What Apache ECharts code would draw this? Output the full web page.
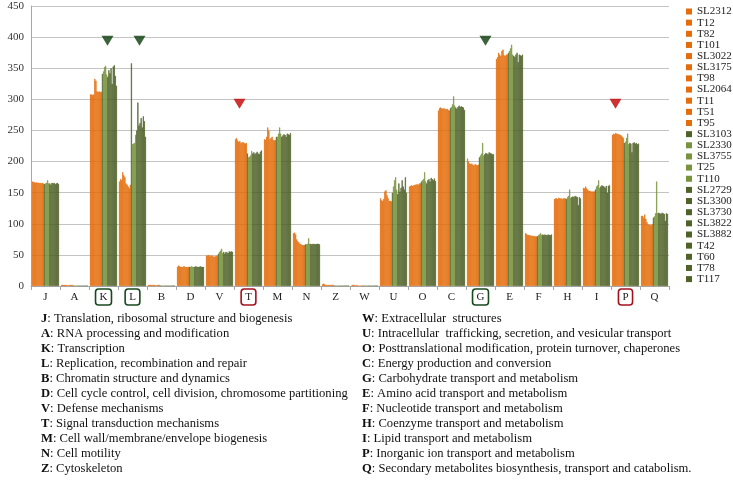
<!DOCTYPE html>
<html>
<head>
<meta charset="utf-8">
<script src="https://cdn.jsdelivr.net/npm/echarts@6/dist/echarts.min.js"></script>
<style>
html,body{margin:0;padding:0;background:#fff;}
#c{width:733px;height:480px;}
</style>
</head>
<body>
<div id="c"></div>
<script>
// ---------------- DATA ----------------
const categories = ['J','A','K','L','B','D','V','T','M','N','Z','W','U','O','C','G','E','F','H','I','P','Q'];
const strains = ['SL2312','T12','T82','T101','SL3022','SL3175','T98','SL2064','T11','T51','T95',
  'SL3103','SL2330','SL3755','T25','T110','SL2729','SL3300','SL3730','SL3822','SL3882','T42','T60','T78','T117'];
// strain group: o = orange, d = dark green, l = light green
const strainGroup = ['o','o','o','o','o','o','o','o','o','o','o','d','l','l','l','l','d','d','d','d','d','d','d','d','d'];

// values per COG category, in the strain order above
const J = [168,167,167,166,167,166,166,166,165,166,165, 164, 165,166,170,165, 165,163,166,165,166,164,165,166,164];
const A = [2,2,2,2,2,2,1,2,2,2,2, 1, 1,1,1,1, 1,1,1,1,1,1,1,1,1];
const K = [308,308,307,308,333,330,313,312,313,312,312, 341, 345,352,354,340, 336,347,342,350,325,353,355,338,322];
const L = [168,172,170,183,178,175,165,163,160,157,163, 358, 228,229,230,243, 250,295,258,262,270,255,273,265,240];
const B = [2,2,2,2,2,2,2,1,2,2,2, 1, 1,1,1,1, 1,1,1,1,1,1,1,1,1];
const D = [31,33,32,31,31,31,32,31,31,30,31, 31, 31,32,31,31, 31,32,31,31,31,32,31,31,31];
const V = [49,49,50,48,49,49,48,47,48,49,48, 52, 55,57,60,53, 55,52,55,54,53,56,55,56,55];
const T = [236,238,234,232,233,230,231,231,230,229,230, 213, 207,208,210,217, 213,215,212,214,216,213,212,216,218];
const M = [236,235,240,255,250,236,238,240,235,234,235, 240, 240,245,255,245, 240,242,244,243,240,245,244,243,246];
const N = [85,86,83,75,72,70,68,67,66,66,66, 67, 67,68,77,68, 68,67,68,68,67,68,68,68,67];
const Z = [3,4,3,2,2,2,2,2,2,2,2, 1, 1,1,1,1, 1,1,1,1,1,1,1,1,1];
const W = [1,2,2,2,1,2,1,1,1,1,1, 1, 1,1,1,1, 1,1,1,1,1,1,1,1,1];
const U = [141,138,137,140,152,154,146,141,137,137,136, 150, 160,170,175,155, 148,165,152,158,170,160,155,175,150];
const O = [160,161,162,161,162,163,163,164,163,165,165, 168, 170,172,183,168, 165,170,172,168,174,172,170,173,169];
const C = [282,286,287,286,285,286,285,284,285,283,282, 286, 288,292,305,290, 287,285,288,290,288,289,288,287,283];
const G = [205,200,197,196,197,195,194,196,195,194,195, 207, 210,213,230,210, 212,214,213,212,215,214,213,212,212];
const E = [365,368,375,372,370,378,380,371,370,372,372, 375, 378,382,388,372, 370,368,372,375,360,372,371,370,372];
const F = [85,84,82,82,82,81,81,81,80,80,80, 80, 82,83,85,82, 83,82,83,82,82,83,82,82,83];
const H = [140,141,141,140,142,141,141,140,141,141,141, 140, 143,145,155,142, 143,144,143,145,144,143,130,143,141];
const I = [158,157,160,157,155,153,153,152,152,152,152, 155, 160,162,170,158, 160,162,161,160,158,161,150,161,162];
const P = [243,245,244,246,245,244,244,243,242,240,238, 230, 232,238,245,228, 230,229,215,230,231,229,230,228,229];
const Q = [113,113,110,115,108,103,99,99,98,98,100, 110, 112,117,168,117, 118,117,116,118,117,116,105,117,116];
const categoryValues = [J,A,K,L,B,D,V,T,M,N,Z,W,U,O,C,G,E,F,H,I,P,Q];

// highlighted categories (boxes + down-pointing triangles)
const greenMarked = ['K','L','G'];
const redMarked = ['T','P'];
const markerCats = ['K','L','G','T','P'];
const markerVals = [394,394,394,293,293];

// y ticks
const yMin = 0, yMax = 450, yStep = 50;

// legend text for the COG codes
const defsLeft = [
  ['J','Translation, ribosomal structure and biogenesis'],
  ['A','RNA processing and modification'],
  ['K','Transcription'],
  ['L','Replication, recombination and repair'],
  ['B','Chromatin structure and dynamics'],
  ['D','Cell cycle control, cell division, chromosome partitioning'],
  ['V','Defense mechanisms'],
  ['T','Signal transduction mechanisms'],
  ['M','Cell wall/membrane/envelope biogenesis'],
  ['N','Cell motility'],
  ['Z','Cytoskeleton']
];
const defsRight = [
  ['W','Extracellular  structures'],
  ['U','Intracellular  trafficking, secretion, and vesicular transport'],
  ['O','Posttranslational modification, protein turnover, chaperones'],
  ['C','Energy production and conversion'],
  ['G','Carbohydrate transport and metabolism'],
  ['E','Amino acid transport and metabolism'],
  ['F','Nucleotide transport and metabolism'],
  ['H','Coenzyme transport and metabolism'],
  ['I','Lipid transport and metabolism'],
  ['P','Inorganic ion transport and metabolism'],
  ['Q','Secondary metabolites biosynthesis, transport and catabolism.']
];

// ---------------- STYLE ----------------
const groupColor = {o:'#E46C0A', d:'#4F6228', l:'#77933C'};
const serif = '"Liberation Serif", "DejaVu Serif", serif';
const markerOffsets = {K:[4,0], L:[7,0], G:[5,0], T:[-9,0], P:[-10,0]};

const series = strains.map((name, si) => ({
  name: name,
  type: 'bar',
  barGap: '0%',
  barCategoryGap: '7%',
  itemStyle: {color: groupColor[strainGroup[si]], borderColor: groupColor[strainGroup[si]], borderWidth: 0.6},
  data: categoryValues.map(arr => arr[si]),
  silent: true
}));

series.push({
  name: 'markers',
  type: 'scatter',
  symbol: 'triangle',
  symbolRotate: 180,
  symbolSize: [12, 10],
  z: 5,
  data: markerCats.map((c, i) => ({
    value: [c, markerVals[i]],
    symbolOffset: markerOffsets[c],
    itemStyle: {color: greenMarked.includes(c) ? '#0B3B0B' : '#C00000'}
  }))
});

const graphics = [];
const lineH = 15.0, top0 = 320.5;
const fs = 12.6;
defsLeft.forEach((d, i) => {
  graphics.push({type:'text', left: 41, top: top0 + i*lineH - 8,
    style:{text:'{b|' + d[0] + '}: ' + d[1], font: fs + 'px ' + serif, fill:'#111',
      rich:{b:{fontWeight:'bold', fontFamily: serif, fontSize:fs, fill:'#111'}}}});
});
defsRight.forEach((d, i) => {
  graphics.push({type:'text', left: 362, top: top0 + i*lineH - 8,
    style:{text:'{b|' + d[0] + '}: ' + d[1], font: fs + 'px ' + serif, fill:'#111',
      rich:{b:{fontWeight:'bold', fontFamily: serif, fontSize:fs, fill:'#111'}}}});
});

const chart = echarts.init(document.getElementById('c'), null, {renderer:'canvas'});
chart.setOption({
  animation: false,
  backgroundColor: '#fff',
  grid: {left: 31, right: 64, top: 6, bottom: 194},
  legend: {
    data: strains,
    orient: 'vertical',
    left: 686, top: 6,
    padding: 0,
    itemWidth: 6, itemHeight: 6, itemGap: 0.15,
    icon: 'rect',
    itemStyle: {borderWidth: 0},
    textStyle: {fontFamily: serif, fontSize: 11, color: '#222', lineHeight: 11},
    selectedMode: false
  },
  xAxis: {
    type: 'category',
    data: categories,
    axisLine: {lineStyle: {color: '#A6A6A6'}},
    axisTick: {show: true, length: 4, lineStyle: {color: '#A6A6A6'}},
    axisLabel: {
      interval: 0,
      margin: 3,
      fontFamily: serif, fontSize: 11, color: '#222',
      formatter: v => greenMarked.includes(v) ? '{g|' + v + '}' : (redMarked.includes(v) ? '{r|' + v + '}' : '{n|' + v + '}'),
      rich: {
        g: {fontFamily: serif, fontSize: 11, color:'#222', padding:[3,4,2,4], borderColor:'#174A1E', borderWidth:1.6, borderRadius:3},
        r: {fontFamily: serif, fontSize: 11, color:'#222', padding:[3,4,2,4], borderColor:'#A3121C', borderWidth:1.6, borderRadius:3},
        n: {fontFamily: serif, fontSize: 11, color:'#222', padding:[3,4,2,4], borderColor:'transparent', borderWidth:1.6}
      }
    }
  },
  yAxis: {
    type: 'value',
    min: yMin, max: yMax, interval: yStep,
    axisLine: {show: true, lineStyle: {color: '#A6A6A6'}},
    axisTick: {show: false},
    axisLabel: {fontFamily: serif, fontSize: 11, color: '#333', margin: 7},
    splitLine: {lineStyle: {color: '#C4C4C4', width: 1}}
  },
  series: series,
  graphic: graphics
});
</script>
</body>
</html>
